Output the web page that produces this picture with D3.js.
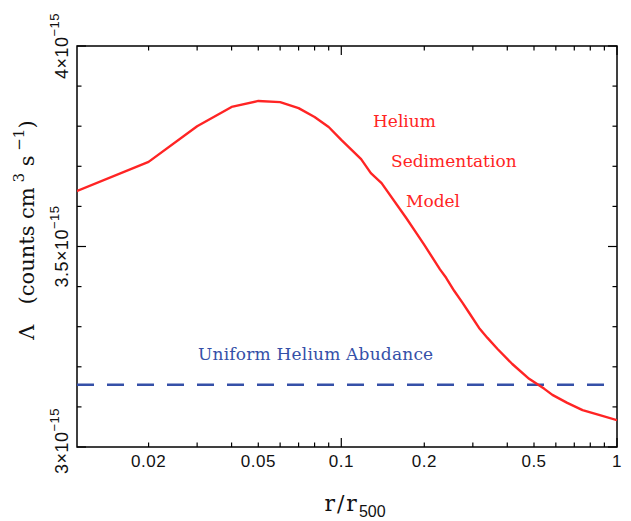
<!DOCTYPE html>
<html>
<head>
<meta charset="utf-8">
<script src="https://cdn.jsdelivr.net/npm/d3@7"></script>
<style>
  body { margin: 0; background: #fff; }
  svg { display: block; }
</style>
</head>
<body>
<div id="chart"></div>
<script>
// r / r500 and emissivity (units of 1e-15 counts cm^3 s^-1)
const radius = [0.01, 0.02, 0.03, 0.04, 0.05, 0.06, 0.07, 0.08, 0.09, 0.1,
  0.118, 0.128, 0.14, 0.172, 0.187, 0.2, 0.228, 0.24, 0.257, 0.275, 0.29,
  0.316, 0.339, 0.368, 0.417, 0.48, 0.545, 0.583, 0.66, 0.75, 0.86, 1.0];
const lambdaSed = [3.627, 3.711, 3.800, 3.848, 3.863, 3.860, 3.845, 3.823, 3.798, 3.766,
  3.718, 3.683, 3.658, 3.571, 3.534, 3.504, 3.443, 3.422, 3.389, 3.360, 3.336,
  3.297, 3.272, 3.245, 3.207, 3.170, 3.145, 3.130, 3.110, 3.092, 3.080, 3.067];
const lambdaUniform = 3.155;

const xTickLabels = [0.02, 0.05, 0.1, 0.2, 0.5, 1];
const yTickLabels = [3, 3.5, 4];
const sedLabels = ['Helium', 'Sedimentation', 'Model'];
const uniformLabel = 'Uniform Helium Abudance';

const width = 631;
const height = 521;
const margin = { top: 46, right: 14, bottom: 74, left: 77 };
const red = '#ff2424';
const blue = '#3550a8';

const svg = d3.select('#chart').append('svg')
  .attr('width', width)
  .attr('height', height);

const x = d3.scaleLog()
  .domain([0.011, 1])
  .range([margin.left, width - margin.right]);

const y = d3.scaleLinear()
  .domain([3, 4])
  .range([height - margin.bottom, margin.top]);

svg.append('defs').append('clipPath')
  .attr('id', 'plotClip')
  .append('rect')
  .attr('x', margin.left)
  .attr('y', margin.top)
  .attr('width', x.range()[1] - margin.left)
  .attr('height', y.range()[0] - margin.top);

//
// ticks, inward on all four sides
//

const xTicks = [];
[0.01, 0.1].forEach(decade => {
  d3.range(1, 10).forEach(k => xTicks.push({ v: decade * k, major: k === 1 }));
});
xTicks.push({ v: 1, major: true });
const xTicksIn = xTicks.filter(d => d.v >= x.domain()[0] && d.v <= 1);

const yTicks = d3.range(0, 11).map(i => ({ v: 3 + i / 10, major: i % 5 === 0 }));

const tickG = svg.append('g')
  .attr('stroke', '#000')
  .attr('stroke-width', 1.2);

[y.range()[0], margin.top].forEach((y0, side) => {
  tickG.selectAll(null)
    .data(xTicksIn)
    .enter().append('line')
      .attr('x1', d => x(d.v))
      .attr('x2', d => x(d.v))
      .attr('y1', y0)
      .attr('y2', d => y0 + (side === 0 ? -1 : 1) * (d.major ? 9 : 4.5));
});

[margin.left, x.range()[1]].forEach((x0, side) => {
  tickG.selectAll(null)
    .data(yTicks)
    .enter().append('line')
      .attr('y1', d => y(d.v))
      .attr('y2', d => y(d.v))
      .attr('x1', x0)
      .attr('x2', d => x0 + (side === 0 ? 1 : -1) * (d.major ? 9 : 4.5));
});

// frame
svg.append('rect')
  .attr('x', margin.left)
  .attr('y', margin.top)
  .attr('width', x.range()[1] - margin.left)
  .attr('height', y.range()[0] - margin.top)
  .attr('fill', 'none')
  .attr('stroke', '#000')
  .attr('stroke-width', 1.5);

//
// tick labels
//

svg.append('g')
  .selectAll('text')
  .data(xTickLabels)
  .enter().append('text')
    .attr('x', d => x(d))
    .attr('y', 467)
    .attr('text-anchor', 'middle')
    .style('font-family', '"Liberation Sans", Arial, sans-serif')
    .style('font-size', '17px')
    .style('letter-spacing', '0.5px')
    .style('fill', '#111')
    .text(d => String(d));

const yLab = svg.append('g')
  .selectAll('text')
  .data(yTickLabels)
  .enter().append('text')
    .attr('transform', d => `translate(68,${y(d) - (d === 3 ? 6 : 0)}) rotate(-90)`)
    .attr('text-anchor', 'middle')
    .style('font-family', '"Liberation Sans", Arial, sans-serif')
    .style('font-size', '18px')
    .style('letter-spacing', '0.5px')
    .style('fill', '#111');
yLab.append('tspan').text(d => `${d}\u00d710`);
yLab.append('tspan')
  .attr('dy', -9)
  .style('font-size', '13px')
  .text('\u221215');

//
// axis titles
//

const yTitle = svg.append('text')
  .attr('transform', 'translate(34,230) rotate(-90)')
  .attr('text-anchor', 'middle')
  .style('font-family', '"DejaVu Serif", serif')
  .style('font-size', '21px')
  .style('fill', '#111');
yTitle.append('tspan').text('\u039b\u00a0\u00a0\u00a0(counts cm');
yTitle.append('tspan').attr('dy', -10).style('font-size', '15px').text('\u00a03');
yTitle.append('tspan').attr('dy', 10).text('\u00a0s');
yTitle.append('tspan').attr('dy', -10).style('font-size', '15px').text('\u00a0\u22121');
yTitle.append('tspan').attr('dy', 10).text(')');

const xTitle = svg.append('text')
  .attr('x', 355)
  .attr('y', 511)
  .attr('text-anchor', 'middle')
  .style('font-family', '"DejaVu Serif", serif')
  .style('font-size', '22px')
  .style('fill', '#111');
xTitle.append('tspan').style('letter-spacing', '2px').text('r/r');
xTitle.append('tspan')
  .attr('dy', 6)
  .style('font-family', '"Liberation Sans", Arial, sans-serif')
  .style('font-size', '16px')
  .text('500');

//
// data lines
//

const plot = svg.append('g').attr('clip-path', 'url(#plotClip)');

plot.append('line')
  .attr('x1', x.range()[0])
  .attr('x2', x.range()[1])
  .attr('y1', y(lambdaUniform))
  .attr('y2', y(lambdaUniform))
  .attr('stroke', blue)
  .attr('stroke-width', 2.5)
  .attr('stroke-dasharray', '17,13');

const line = d3.line()
  .x((d, i) => x(radius[i]))
  .y(d => y(d));

plot.append('path')
  .datum(lambdaSed)
  .attr('d', line)
  .attr('fill', 'none')
  .attr('stroke', red)
  .attr('stroke-width', 2.4)
  .attr('stroke-linejoin', 'round');

//
// annotations
//

const annFont = '"DejaVu Serif", serif';
const sedPos = [[373, 127], [391, 167], [406, 207]];
svg.append('g')
  .selectAll('text')
  .data(sedLabels)
  .enter().append('text')
    .attr('x', (d, i) => sedPos[i][0])
    .attr('y', (d, i) => sedPos[i][1])
    .style('font-family', annFont)
    .style('font-size', '17px')
    .style('fill', red)
    .text(d => d);

svg.append('text')
  .attr('x', 198)
  .attr('y', 360)
  .style('font-family', annFont)
  .style('font-size', '17px')
  .style('letter-spacing', '0.2px')
  .style('fill', blue)
  .text(uniformLabel);
</script>
</body>
</html>
